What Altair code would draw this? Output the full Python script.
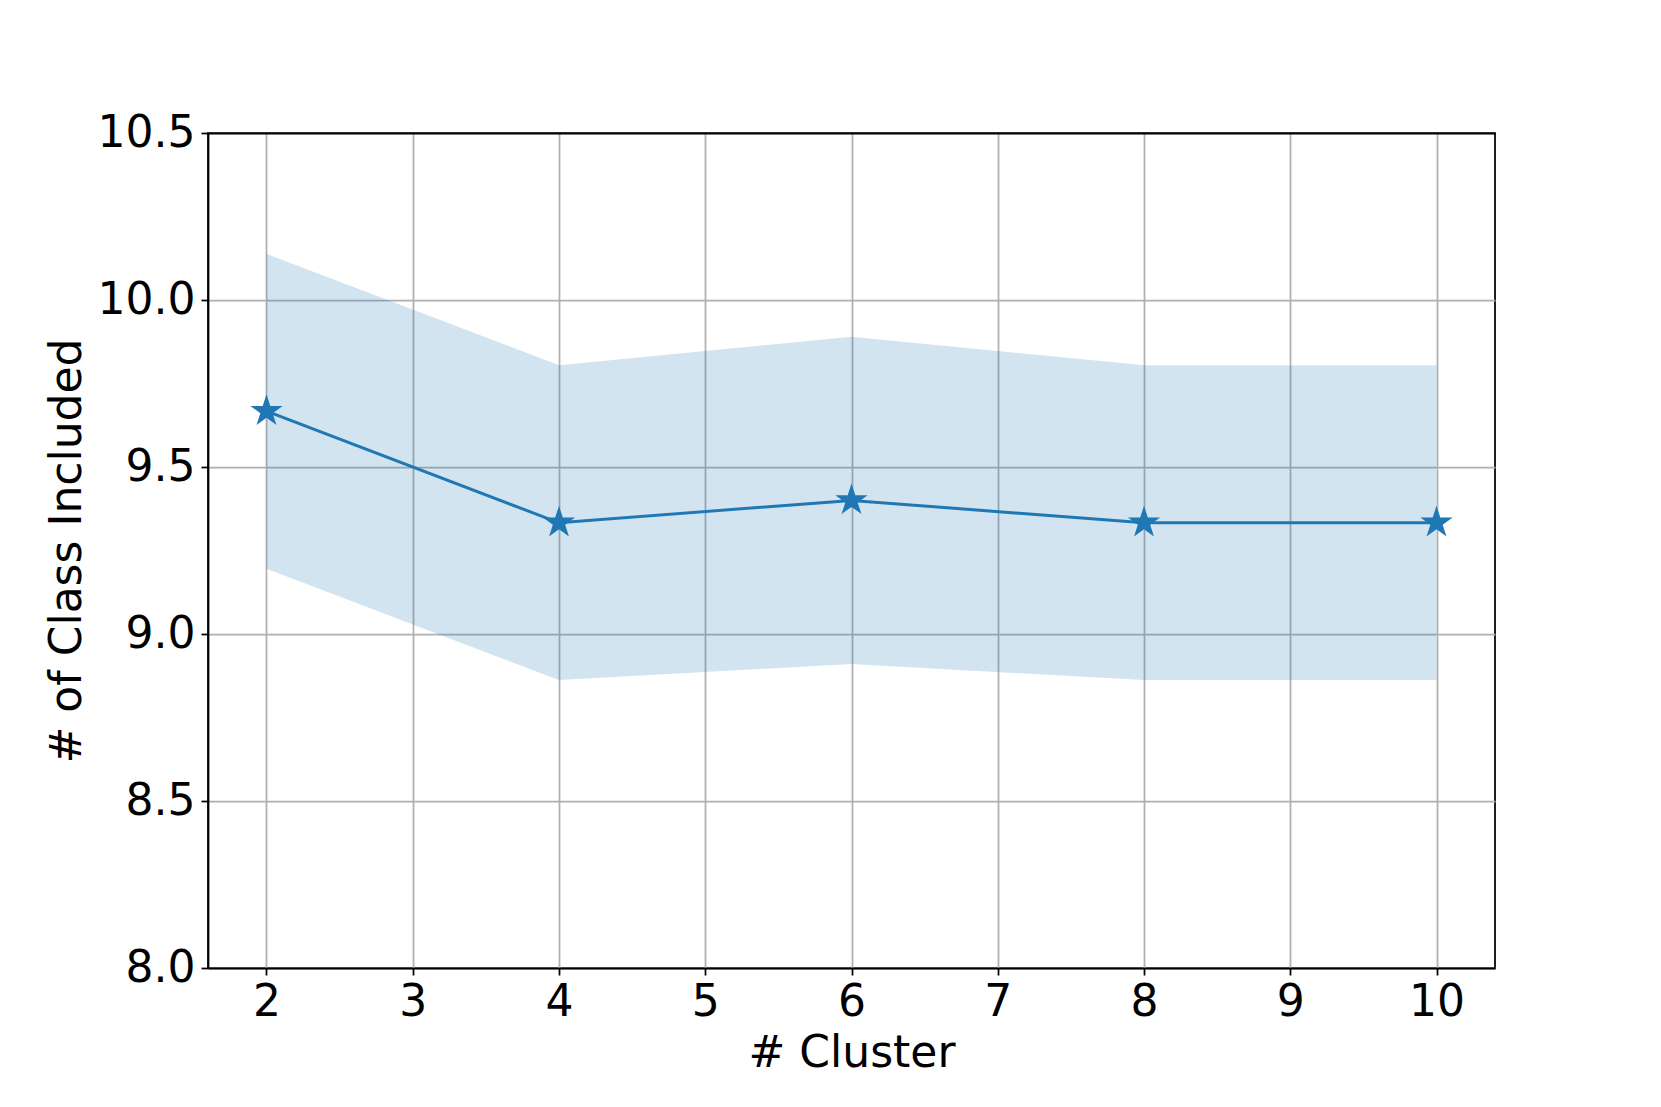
import altair as alt
import pandas as pd

clusters = [2, 4, 6, 8, 10]
mean_classes = [9.667, 9.333, 9.400, 9.333, 9.333]
lower_band = [9.195, 8.862, 8.910, 8.862, 8.862]
upper_band = [10.138, 9.805, 9.890, 9.805, 9.805]

x_ticks = [2, 3, 4, 5, 6, 7, 8, 9, 10]
y_ticks = [8.0, 8.5, 9.0, 9.5, 10.0, 10.5]

df = pd.DataFrame({"cluster": clusters, "mean": mean_classes,
                   "lo": lower_band, "hi": upper_band})

STAR = ("M0,-1 L0.2245,-0.309 L0.9511,-0.309 L0.3633,0.118 L0.5878,0.809 "
        "L0,0.382 L-0.5878,0.809 L-0.3633,0.118 L-0.9511,-0.309 L-0.2245,-0.309 Z")

FONT = "DejaVu Sans"
xscale = alt.Scale(domain=[1.6, 10.4], nice=False, zero=False)
yscale = alt.Scale(domain=[8.0, 10.5], nice=False, zero=False)

xaxis = alt.Axis(values=x_ticks, format="d", title="# Cluster",
                 titleFontSize=44, titleFont=FONT, titleFontWeight="normal",
                 titleBaseline="alphabetic", titleY=98, titleColor="black",
                 labelFontSize=44, labelFont=FONT, labelColor="black",
                 labelPadding=5, tickSize=7, tickWidth=1.75, tickColor="black",
                 domainColor="black", domainWidth=1.75,
                 grid=True, gridColor="#b0b0b0", gridWidth=1.75, labelFlush=False)
yaxis = alt.Axis(values=y_ticks, format=".1f", title="# of Class Included",
                 titleFontSize=44, titleFont=FONT, titleFontWeight="normal",
                 titleBaseline="alphabetic", titleX=-128, titleColor="black",
                 labelFontSize=44, labelFont=FONT, labelColor="black",
                 labelPadding=6, tickSize=7, tickWidth=1.75, tickColor="black",
                 domainColor="black", domainWidth=1.75,
                 grid=True,
                 gridColor={"condition": {"test": "datum.value >= 10.5", "value": "black"},
                            "value": "#b0b0b0"},
                 gridWidth=1.75, labelFlush=False)

band = alt.Chart(df).mark_area(color="#1f77b4", opacity=0.2).encode(
    x=alt.X("cluster:Q", scale=xscale, axis=xaxis),
    y=alt.Y("lo:Q", scale=yscale, axis=yaxis),
    y2="hi:Q",
)

line = alt.Chart(df).mark_line(color="#1f77b4", strokeWidth=3).encode(
    x=alt.X("cluster:Q", scale=xscale),
    y=alt.Y("mean:Q", scale=yscale),
)

points = alt.Chart(df).mark_point(shape=STAR, filled=True, color="#1f77b4",
                                  size=1150, opacity=1).encode(
    x=alt.X("cluster:Q", scale=xscale),
    y=alt.Y("mean:Q", scale=yscale),
)

chart = (band + line + points).properties(
    width=1287, height=835,
    background="white",
    autosize=alt.AutoSizeParams(type="none"),
    padding={"left": 200, "top": 125, "right": 140, "bottom": 120},
).configure_view(stroke="black", strokeWidth=1.75)

chart.save("out.html", embed_options={"renderer": "svg", "actions": False})
